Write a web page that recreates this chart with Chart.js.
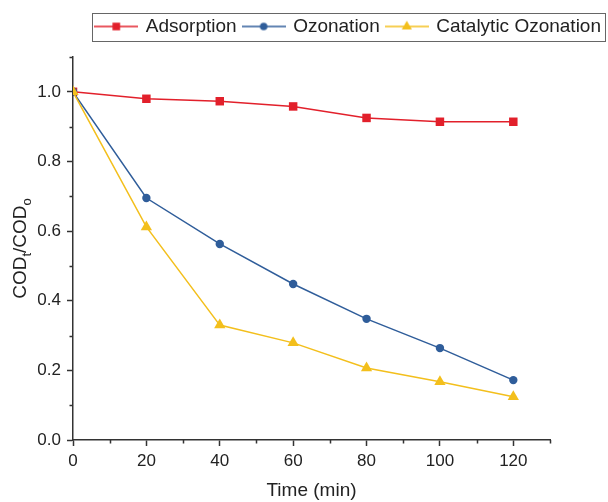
<!DOCTYPE html>
<html>
<head>
<meta charset="utf-8">
<title>COD removal</title>
<script src="https://cdn.jsdelivr.net/npm/chart.js@4.4.0/dist/chart.umd.min.js"></script>
<style>
    html, body { margin: 0; padding: 0; background: #fff; }
    canvas { display: block; }
</style>
</head>
<body>
<canvas id="codChart" width="608" height="502"></canvas>
<script>
// Dữ liệu
const timeMin = [0, 20, 40, 60, 80, 100, 120];
const adsorption = [1.0, 0.980, 0.973, 0.958, 0.925, 0.914, 0.914];
const ozonation = [1.0, 0.695, 0.563, 0.448, 0.348, 0.264, 0.172];
const catalyticOzonation = [1.0, 0.612, 0.330, 0.279, 0.207, 0.167, 0.124];

const xTicks = [0, 20, 40, 60, 80, 100, 120];
const xMinorTicks = [10, 30, 50, 70, 90, 110, 130];
const yTicks = [0.0, 0.2, 0.4, 0.6, 0.8, 1.0];
const yMinorTicks = [0.1, 0.3, 0.5, 0.7, 0.9, 1.1];

const FONT = "'Liberation Sans', Arial, sans-serif";
const AXIS_COLOR = "#333";
const LEGEND_SHIFT = 11;

function toPoints(values) {
    return timeMin.map((t, i) => ({ x: t, y: values[i] }));
}

function drawMarker(ctx, style, cx, cy, r) {
    ctx.beginPath();
    if (style === "rect") {
        const s = r * Math.SQRT1_2;
        ctx.rect(cx - s, cy - s, 2 * s, 2 * s);
    } else if (style === "triangle") {
        ctx.moveTo(cx, cy - r);
        ctx.lineTo(cx + r * 0.866, cy + r * 0.5);
        ctx.lineTo(cx - r * 0.866, cy + r * 0.5);
        ctx.closePath();
    } else {
        ctx.arc(cx, cy, r, 0, Math.PI * 2);
    }
    ctx.fill();
}

// Mẫu legend: đường + marker
function legendSample(color, style, r) {
    const c = document.createElement("canvas");
    c.width = 44;
    c.height = 14;
    const ctx = c.getContext("2d");
    ctx.strokeStyle = color;
    ctx.lineWidth = 1.5;
    ctx.beginPath();
    ctx.moveTo(0, 7);
    ctx.lineTo(44, 7);
    ctx.stroke();
    ctx.fillStyle = color;
    drawMarker(ctx, style, 22, 7, r);
    return c;
}

const series = [
    { label: "Adsorption", data: adsorption, color: "#e2202b", style: "rect", radius: 6, order: 3 },
    { label: "Ozonation", data: ozonation, color: "#2f5d9a", style: "circle", radius: 4.2, order: 2 },
    { label: "Catalytic Ozonation", data: catalyticOzonation, color: "#f3bf1c", style: "triangle", radius: 6.5, order: 1 }
];

// Vạch chia phụ + khung legend + tiêu đề trục y có chỉ số dưới
const extrasPlugin = {
    id: "extras",
    afterUpdate(chart) {
        // đẩy legend lên sát mép trên
        const lg = chart.legend;
        if (!lg) return;
        lg.top -= LEGEND_SHIFT;
        lg.bottom -= LEGEND_SHIFT;
        (lg.legendHitBoxes || []).forEach(h => { h.top -= LEGEND_SHIFT; });
    },
    afterDraw(chart) {
        const ctx = chart.ctx;
        const xs = chart.scales.x;
        const ys = chart.scales.y;
        const area = chart.chartArea;

        ctx.save();
        ctx.strokeStyle = AXIS_COLOR;
        ctx.lineWidth = 1.5;
        ctx.beginPath();
        xMinorTicks.forEach(v => {
            const px = Math.round(xs.getPixelForValue(v)) + 0.5;
            ctx.moveTo(px, area.bottom);
            ctx.lineTo(px, area.bottom + 3.5);
        });
        yMinorTicks.forEach(v => {
            const py = Math.round(ys.getPixelForValue(v)) + 0.5;
            ctx.moveTo(area.left, py);
            ctx.lineTo(area.left - 3.5, py);
        });
        ctx.stroke();

        // khung legend
        const boxes = chart.legend.legendHitBoxes;
        if (boxes && boxes.length) {
            const first = boxes[0];
            const last = boxes[boxes.length - 1];
            const cy = first.top + first.height / 2;
            ctx.strokeStyle = "#666";
            ctx.lineWidth = 1;
            ctx.strokeRect(Math.round(first.left - 4) + 0.5, Math.round(cy - 14) + 0.5,
                Math.round(last.left + last.width - first.left + 8), 28);
        }

        // tiêu đề trục y: COD_t/COD_0
        const parts = [
            { t: "COD", size: 19, dy: 0 },
            { t: "t", size: 13, dy: 5 },
            { t: "/COD", size: 19, dy: 0 },
            { t: "o", size: 13, dy: 5 }
        ];
        let total = 0;
        parts.forEach(p => {
            ctx.font = p.size + "px " + FONT;
            p.w = ctx.measureText(p.t).width;
            total += p.w;
        });
        ctx.translate(26, (area.top + area.bottom) / 2);
        ctx.rotate(-Math.PI / 2);
        ctx.fillStyle = "#222";
        ctx.textBaseline = "alphabetic";
        let x = -total / 2;
        parts.forEach(p => {
            ctx.font = p.size + "px " + FONT;
            ctx.fillText(p.t, x, p.dy);
            x += p.w;
        });
        ctx.restore();
    }
};

const ctx = document.getElementById("codChart").getContext("2d");

new Chart(ctx, {
    type: "line",
    data: {
        datasets: series.map(s => ({
            label: s.label,
            data: toPoints(s.data),
            borderColor: s.color,
            backgroundColor: s.color,
            pointBackgroundColor: s.color,
            pointBorderColor: s.color,
            pointBorderWidth: 0,
            pointStyle: s.style,
            pointRadius: s.radius,
            borderWidth: 1.5,
            tension: 0,
            fill: false,
            order: s.order
        }))
    },
    options: {
        responsive: false,
        animation: false,
        devicePixelRatio: 1,
        layout: { padding: { top: 4, left: 0, right: 0, bottom: 0 } },
        plugins: {
            tooltip: { enabled: false },
            legend: {
                position: "top",
                align: "end",
                labels: {
                    usePointStyle: true,
                    pointStyleWidth: 40,
                    padding: 7,
                    color: "#222",
                    font: { family: FONT, size: 19 },
                    generateLabels: chart => chart.data.datasets.map((ds, i) => ({
                        text: ds.label,
                        pointStyle: legendSample(series[i].color, series[i].style, series[i].radius * 0.9),
                        fillStyle: series[i].color,
                        strokeStyle: series[i].color,
                        lineWidth: 0,
                        fontColor: "#222",
                        hidden: false,
                        datasetIndex: i
                    }))
                }
            }
        },
        scales: {
            x: {
                type: "linear",
                min: 0,
                max: 130,
                afterBuildTicks: scale => { scale.ticks = xTicks.map(v => ({ value: v })); },
                afterFit: scale => { scale.height = 62; scale.paddingRight = 58; },
                grid: { drawOnChartArea: false, drawTicks: true, tickLength: 6, tickColor: AXIS_COLOR, tickWidth: 1.5 },
                border: { display: true, color: AXIS_COLOR, width: 1.5 },
                ticks: { color: "#222", padding: 5, maxRotation: 0, font: { family: FONT, size: 17 } },
                title: { display: true, text: "Time (min)", color: "#222", padding: { top: 0, bottom: 0 }, font: { family: FONT, size: 19 } }
            },
            y: {
                min: 0,
                max: 1.1,
                afterBuildTicks: scale => { scale.ticks = yTicks.map(v => ({ value: v })); },
                afterFit: scale => { scale.width = 73; scale.paddingTop = 57; },
                grid: { drawOnChartArea: false, drawTicks: true, tickLength: 6, tickColor: AXIS_COLOR, tickWidth: 1.5 },
                border: { display: true, color: AXIS_COLOR, width: 1.5 },
                ticks: { color: "#222", padding: 6, font: { family: FONT, size: 17 }, callback: v => Number(v).toFixed(1) }
            }
        }
    },
    plugins: [extrasPlugin]
});
</script>
</body>
</html>
